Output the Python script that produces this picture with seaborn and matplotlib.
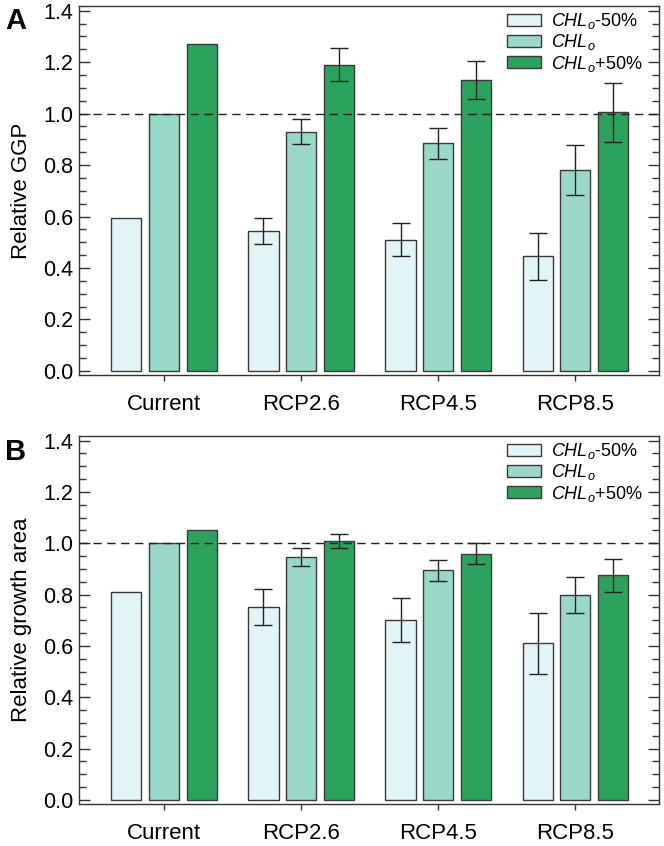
import numpy as np
import pandas as pd
import matplotlib
matplotlib.use("Agg")
import matplotlib.pyplot as plt
from matplotlib.ticker import MultipleLocator
import seaborn as sns

# Dane
scenarios = ["Current", "RCP2.6", "RCP4.5", "RCP8.5"]
levels = [r"$\mathit{CHL_o}$-50%", r"$\mathit{CHL_o}$", r"$\mathit{CHL_o}$+50%"]

# panel A: Relative GGP
ggp_low = [0.595, 0.545, 0.51, 0.445]
ggp_mid = [1.0, 0.93, 0.885, 0.78]
ggp_high = [1.27, 1.19, 1.13, 1.005]
ggp_err_low = [0, 0.05, 0.063, 0.09]
ggp_err_mid = [0, 0.05, 0.06, 0.097]
ggp_err_high = [0, 0.063, 0.075, 0.115]

# panel B: Relative growth area
area_low = [0.81, 0.75, 0.70, 0.61]
area_mid = [1.0, 0.945, 0.895, 0.80]
area_high = [1.05, 1.01, 0.96, 0.875]
area_err_low = [0, 0.07, 0.085, 0.12]
area_err_mid = [0, 0.035, 0.04, 0.07]
area_err_high = [0, 0.028, 0.04, 0.065]

colors = ["#e2f4f6", "#99d8c9", "#2ca25f"]

sns.set_style("ticks")
plt.rcParams["font.family"] = ["Liberation Sans", "DejaVu Sans"]
plt.rcParams["mathtext.fontset"] = "custom"
plt.rcParams["mathtext.it"] = "Liberation Sans:italic"
plt.rcParams["mathtext.rm"] = "Liberation Sans"
for key in ["text.color", "axes.labelcolor", "xtick.color", "ytick.color"]:
    plt.rcParams[key] = "black"


def make_df(vals, errs):
    rows = []
    for lev, v, e in zip(levels, vals, errs):
        for sc, val, err in zip(scenarios, v, e):
            rows.append({"scenario": sc, "chl": lev, "value": val, "err": err})
    return pd.DataFrame(rows)


def panel(ax, df, ylabel):
    sns.barplot(data=df, x="scenario", y="value", hue="chl", order=scenarios,
                hue_order=levels, palette=colors, saturation=1, width=0.825,
                gap=0.2, edgecolor="#3a3a3a", linewidth=1.0, errorbar=None,
                ax=ax, legend=False)
    # słupki błędów na środkach słupków
    for cont, lev in zip(ax.containers, levels):
        sub = df[df["chl"] == lev].set_index("scenario").loc[scenarios]
        for bar, val, err in zip(cont.patches, sub["value"], sub["err"]):
            if err > 0:
                ax.errorbar(bar.get_x() + bar.get_width() / 2, val, yerr=err,
                            fmt="none", ecolor="#222222", elinewidth=1.0,
                            capsize=6.5, capthick=1.0, zorder=5)
    ax.axhline(1.0, color="#222222", lw=1.0, ls=(0, (6, 4)), zorder=6)

    ax.set_xlim(-0.62, 3.61)
    ax.set_ylim(-0.016, 1.418)
    ax.yaxis.set_major_locator(MultipleLocator(0.2))
    ax.yaxis.set_minor_locator(MultipleLocator(0.05))
    ax.yaxis.set_major_formatter(plt.FormatStrFormatter("%.1f"))
    ax.tick_params(axis="y", which="major", direction="in", length=8,
                   width=1, left=True, right=True, labelsize=15.5, pad=4,
                   color="#333333")
    ax.tick_params(axis="y", which="minor", direction="in", length=5,
                   width=1, left=True, right=True, color="#333333")
    ax.tick_params(axis="x", direction="out", length=4.3, width=1,
                   labelsize=16, pad=9, color="#333333")
    for s in ax.spines.values():
        s.set_visible(True)
        s.set_linewidth(1.0)
        s.set_color("#333333")
    ax.set_xlabel("")
    ax.set_ylabel(ylabel, fontsize=16, labelpad=8)

    ax.legend(handles=ax.containers, labels=levels, loc="upper right",
              frameon=False, fontsize=13, handlelength=1.9,
              handleheight=0.67, labelspacing=0.06, handletextpad=0.5,
              borderaxespad=0.0, bbox_to_anchor=(0.983, 1.005))


fig = plt.figure(figsize=(6.64, 8.46), dpi=100)
ax1 = fig.add_axes([0.119, 0.5567, 0.8735, 0.4362])
ax2 = fig.add_axes([0.119, 0.0496, 0.8735, 0.4350])

panel(ax1, make_df([ggp_low, ggp_mid, ggp_high],
                   [ggp_err_low, ggp_err_mid, ggp_err_high]),
      "Relative GGP")
panel(ax2, make_df([area_low, area_mid, area_high],
                   [area_err_low, area_err_mid, area_err_high]),
      "Relative growth area")

fig.text(5 / 664, 1 - 21 / 846, "A", fontsize=21, fontweight="bold", va="center")
fig.text(5 / 664, 1 - 452 / 846, "B", fontsize=21, fontweight="bold", va="center")

fig.savefig("out.png", dpi=100)
